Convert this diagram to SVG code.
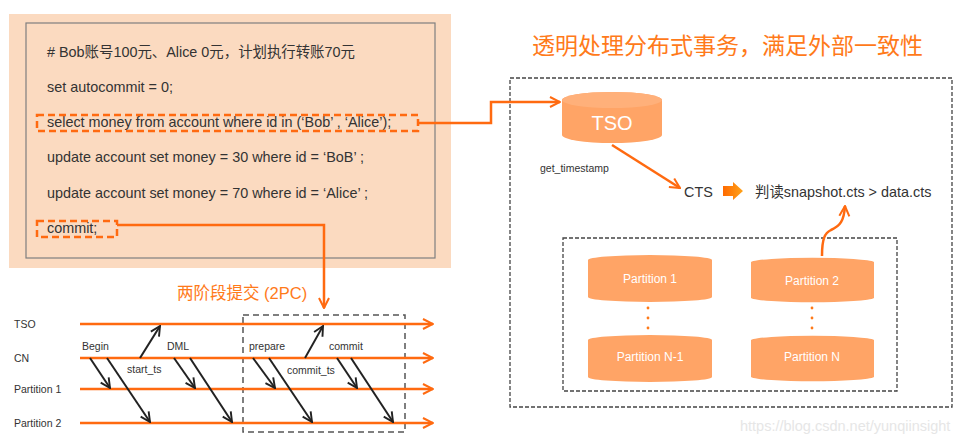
<svg xmlns="http://www.w3.org/2000/svg" width="980" height="444" viewBox="0 0 980 444">
<style>
.code{font-family:"Liberation Sans","Noto Sans CJK SC",sans-serif;font-size:14.4px;fill:#333}
.lbl{font-family:"Liberation Sans",sans-serif;font-size:10.5px;fill:#333}
.otitle{font-family:"Liberation Sans","Noto Sans CJK SC",sans-serif;fill:#FF7A1A}
.ptxt{font-family:"Liberation Sans",sans-serif;font-size:12px;fill:#fff;text-anchor:middle}
.cyl{fill:#FFA466}
.cyltop{fill:#FFB07A}
.oline{stroke:#FF6A10;stroke-width:2.5;fill:none}
.bline{stroke:#222;stroke-width:2;fill:none}
.dash{stroke:#444;stroke-width:1.3;fill:none;stroke-dasharray:4 2}
.odash{stroke:#FF6A10;stroke-width:2.5;fill:none;stroke-dasharray:7 4}
</style>
<defs>
<marker id="oa" viewBox="0 0 10 10" refX="9" refY="5" markerWidth="5" markerHeight="5" orient="auto" markerUnits="strokeWidth">
<path d="M1,1 L9,5 L1,9" fill="none" stroke="#FF6A10" stroke-width="1.6"/>
</marker>
<marker id="ba" viewBox="0 0 10 10" refX="9" refY="5" markerWidth="6" markerHeight="6" orient="auto" markerUnits="strokeWidth">
<path d="M1,1 L9,5 L1,9" fill="none" stroke="#222" stroke-width="1.6"/>
</marker>
<linearGradient id="bg" x1="0" x2="1" y1="0" y2="0">
<stop offset="0" stop-color="#FF6A00"/>
<stop offset="1" stop-color="#FFA31A"/>
</linearGradient>
</defs>

<g id="code-panel">
<rect x="9" y="14" width="442" height="254" fill="#FBDAC0"/>
<rect x="26" y="23" width="409" height="235" fill="none" stroke="#7F7F7F" stroke-width="1.2"/>
<text class="code" x="47" y="57"># Bob账号100元、Alice 0元，计划执行转账70元</text>
<text class="code" x="47" y="92">set autocommit = 0;</text>
<text class="code" x="47" y="127">select money from account where id in (‘Bob’ , ‘Alice’);</text>
<text class="code" x="47" y="162">update account set money = 30 where id = ‘BoB’ ;</text>
<text class="code" x="47" y="198">update account set money = 70 where id = ‘Alice’ ;</text>
<text class="code" x="47" y="233">commit;</text>
<rect class="odash" x="37" y="115" width="381" height="16"/>
<rect class="odash" x="37" y="221" width="80" height="16"/>
</g>

<g id="title">
<text class="otitle" x="532" y="54" font-size="23">透明处理分布式事务，满足外部一致性</text>
</g>

<g id="tpc-label">
<text class="otitle" x="177" y="299" font-size="16.5">两阶段提交 (2PC)</text>
</g>

<g id="right-box">
<rect class="dash" x="510" y="78" width="442" height="329"/>
</g>

<g id="tso">
<path class="cyl" d="M562,100 A50,8 0 0 1 662,100 V135 A50,8 0 0 1 562,135 Z"/>
<ellipse class="cyltop" cx="612" cy="100" rx="50" ry="8"/>
<text x="612" y="130" font-family="Liberation Sans,sans-serif" font-size="20" fill="#fff" text-anchor="middle">TSO</text>
</g>
<text class="lbl" x="540" y="172" font-size="10.8">get_timestamp</text>

<g id="cts">
<text class="code" x="684" y="197">CTS</text>
<path d="M723,186 H733 V182 L743,191 L733,200 V196 H723 Z" fill="url(#bg)"/>
<text class="code" x="755" y="197">判读snapshot.cts &gt; data.cts</text>
</g>

<g id="partition-box">
<rect class="dash" x="563" y="238" width="334" height="153"/>
</g>

<g id="p1">
<path class="cyl" d="M588,260 A62,5 0 0 1 712,260 V297 A62,5 0 0 1 588,297 Z"/>
<text class="ptxt" x="650" y="283">Partition 1</text>
</g>
<g id="p2">
<path class="cyl" d="M751,262 A62,5 0 0 1 874,262 V298 A62,5 0 0 1 751,298 Z"/>
<text class="ptxt" x="812" y="285">Partition 2</text>
</g>
<g id="pn1">
<path class="cyl" d="M588,340 A62,5 0 0 1 712,340 V377 A62,5 0 0 1 588,377 Z"/>
<text class="ptxt" x="650" y="361">Partition N-1</text>
</g>
<g id="pn">
<path class="cyl" d="M751,340 A62,5 0 0 1 874,340 V377 A62,5 0 0 1 751,377 Z"/>
<text class="ptxt" x="812" y="361">Partition N</text>
</g>
<g id="dots" fill="#FF7A1A">
<circle cx="648" cy="308" r="1.4"/><circle cx="648" cy="318" r="1.4"/><circle cx="648" cy="328" r="1.4"/>
<circle cx="812" cy="308" r="1.4"/><circle cx="812" cy="318" r="1.4"/><circle cx="812" cy="328" r="1.4"/>
</g>

<g id="timeline-labels">
<text class="lbl" x="14" y="328">TSO</text>
<text class="lbl" x="14" y="362">CN</text>
<text class="lbl" x="14" y="393">Partition 1</text>
<text class="lbl" x="14" y="427">Partition 2</text>
<text class="lbl" x="82" y="350">Begin</text>
<text class="lbl" x="127" y="373">start_ts</text>
<text class="lbl" x="167" y="350">DML</text>
<text class="lbl" x="249" y="350">prepare</text>
<text class="lbl" x="329" y="350">commit</text>
<text class="lbl" x="287" y="374">commit_ts</text>
</g>

<g id="tpc-box">
<rect x="243" y="315" width="162" height="117" fill="none" stroke="#555" stroke-width="1.5" stroke-dasharray="6 4"/>
</g>

<g id="connectors">
<path class="oline" d="M418,123 H491 V102 H560" marker-end="url(#oa)"/>
<path class="oline" d="M117,225 H324 V308" marker-end="url(#oa)"/>
<path class="oline" d="M612,145 L680,188" marker-end="url(#oa)"/>
<path class="oline" d="M822,256 C822,238 825,233 831,230 C840,226 844,221 845,206" marker-end="url(#oa)"/>
<path class="oline" d="M80,324 H433" marker-end="url(#oa)"/>
<path class="oline" d="M80,358 H433" marker-end="url(#oa)"/>
<path class="oline" d="M80,389 H433" marker-end="url(#oa)"/>
<path class="oline" d="M80,423 H433" marker-end="url(#oa)"/>
<path class="bline" d="M90,358 L110,388" marker-end="url(#ba)"/>
<path class="bline" d="M107,358 L150,422" marker-end="url(#ba)"/>
<path class="bline" d="M140,358 L160,326" marker-end="url(#ba)"/>
<path class="bline" d="M174,358 L195,388" marker-end="url(#ba)"/>
<path class="bline" d="M190,358 L232,422" marker-end="url(#ba)"/>
<path class="bline" d="M253,358 L275,388" marker-end="url(#ba)"/>
<path class="bline" d="M269,358 L312,422" marker-end="url(#ba)"/>
<path class="bline" d="M305,358 L323,326" marker-end="url(#ba)"/>
<path class="bline" d="M337,358 L357,388" marker-end="url(#ba)"/>
<path class="bline" d="M351,358 L393,422" marker-end="url(#ba)"/>
</g>

<text x="740" y="431" font-family="Liberation Sans,sans-serif" font-size="14.5" fill="#E6E6E6">https://blog.csdn.net/yunqiinsight</text>
</svg>
